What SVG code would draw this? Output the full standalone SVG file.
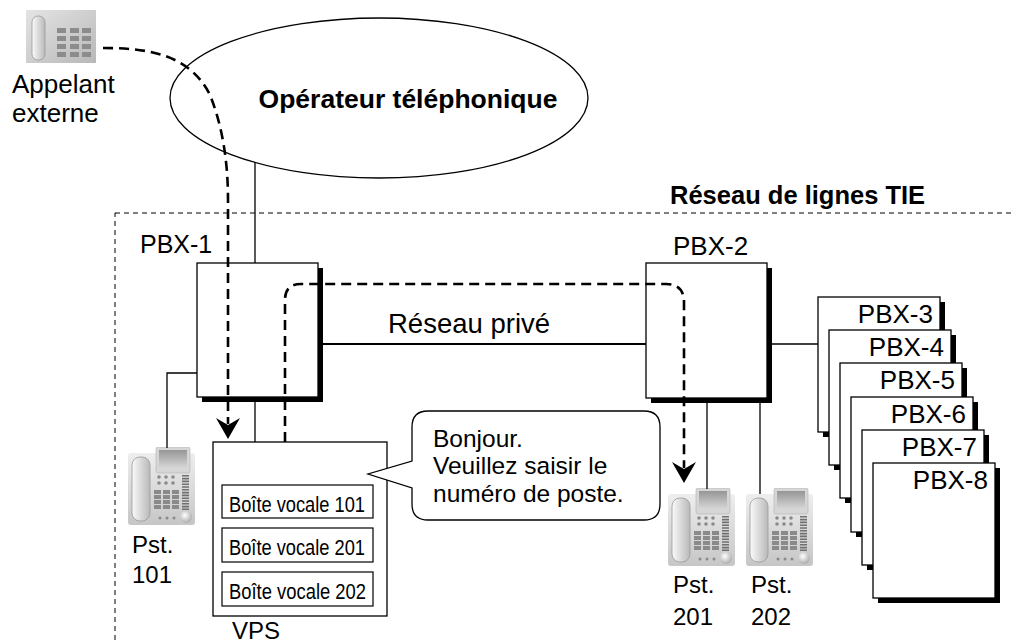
<svg xmlns="http://www.w3.org/2000/svg" width="1014" height="643" viewBox="0 0 1014 643">
  <style>
    .t{font-family:"Liberation Sans",Arial,Helvetica,sans-serif;fill:#000}
    .b{font-weight:bold}
    .box{fill:#fff;stroke:#000;stroke-width:1.3}
    .shadow{fill:#000}
    .wire{fill:none;stroke:#000;stroke-width:1.3}
    .trunk{fill:none;stroke:#000;stroke-width:2.2}
    .call{fill:none;stroke:#000;stroke-width:2.6;stroke-dasharray:10 6;marker-end:url(#arrow)}
    .zone{fill:none;stroke:#000;stroke-width:1;stroke-dasharray:5 4}
    .mbox{fill:#fff;stroke:#000;stroke-width:1.2}
  </style>
  <defs>
    <marker id="arrow" markerUnits="userSpaceOnUse" viewBox="0 0 21 24" markerWidth="21" markerHeight="24" refX="6" refY="12" orient="auto">
      <path d="M21,12 L0,0 L7,12 L0,24 Z" fill="#000"/>
    </marker>
    <linearGradient id="gBody" x1="0" y1="0" x2="0" y2="1">
      <stop offset="0" stop-color="#eeeeee"/>
      <stop offset="1" stop-color="#c6c6c6"/>
    </linearGradient>
    <linearGradient id="gHandset" x1="0" y1="0" x2="1" y2="0">
      <stop offset="0" stop-color="#fafafa"/>
      <stop offset="1" stop-color="#b9b9b9"/>
    </linearGradient>
    <linearGradient id="gScreen" x1="0" y1="0" x2="0" y2="1">
      <stop offset="0" stop-color="#969696"/>
      <stop offset="1" stop-color="#dadada"/>
    </linearGradient>
    <radialGradient id="gBtn" cx="0.4" cy="0.35" r="0.7">
      <stop offset="0" stop-color="#ffffff"/>
      <stop offset="1" stop-color="#a8a8a8"/>
    </radialGradient>
    <linearGradient id="gCaller" x1="0" y1="0" x2="1" y2="1">
      <stop offset="0" stop-color="#e4e4e4"/>
      <stop offset="1" stop-color="#b8b8b8"/>
    </linearGradient>
    <symbol id="deskphone" viewBox="0 0 67 78">
      <rect x="0" y="6" width="67" height="72" rx="3" fill="url(#gBody)"/>
      <rect x="4" y="10" width="18" height="64" rx="8" fill="url(#gHandset)" stroke="#9a9a9a" stroke-width="0.8"/>
      <rect x="28" y="0" width="34" height="26" rx="2" fill="#d6d6d6" stroke="#b4b4b4" stroke-width="0.6"/>
      <rect x="31" y="3" width="28" height="19" fill="url(#gScreen)"/>
      <g fill="#8a8a8a">
        <circle cx="31" cy="30" r="1.8"/><circle cx="38" cy="30" r="1.8"/><circle cx="45" cy="30" r="1.8"/>
        <circle cx="31" cy="36" r="1.8"/><circle cx="38" cy="36" r="1.8"/><circle cx="45" cy="36" r="1.8"/>
        <rect x="26" y="43" width="7" height="4"/><rect x="35" y="43" width="7" height="4"/><rect x="44" y="43" width="7" height="4"/>
        <rect x="26" y="48" width="7" height="4"/><rect x="35" y="48" width="7" height="4"/><rect x="44" y="48" width="7" height="4"/>
        <rect x="26" y="53" width="7" height="4"/><rect x="35" y="53" width="7" height="4"/><rect x="44" y="53" width="7" height="4"/>
        <rect x="26" y="58" width="7" height="4"/><rect x="35" y="58" width="7" height="4"/><rect x="44" y="58" width="7" height="4"/>
        <circle cx="32" cy="71" r="1.5"/><circle cx="39" cy="71" r="1.5"/><circle cx="46" cy="71" r="1.5"/>
      </g>
      <line x1="57.5" y1="28" x2="57.5" y2="63" stroke="#707070" stroke-width="7" stroke-dasharray="1.6 1.2"/>
      <circle cx="58" cy="70" r="6" fill="url(#gBtn)"/>
    </symbol>
  </defs>

  <!-- TIE line network boundary -->
  <g id="tie-network">
    <rect class="zone" x="115" y="213" width="960" height="500"/>
    <text class="t b" x="670" y="204" font-size="25.5">Réseau de lignes TIE</text>
  </g>

  <!-- external caller -->
  <g id="caller">
    <rect x="26" y="10" width="70" height="53" fill="url(#gCaller)"/>
    <rect x="32" y="16" width="13" height="44" rx="6" fill="url(#gHandset)" stroke="#9a9a9a" stroke-width="0.8"/>
    <g fill="#8c8c8c">
      <rect x="57" y="28" width="9" height="5"/><rect x="70" y="28" width="9" height="5"/><rect x="82" y="28" width="9" height="5"/>
      <rect x="57" y="36" width="9" height="5"/><rect x="70" y="36" width="9" height="5"/><rect x="82" y="36" width="9" height="5"/>
      <rect x="57" y="44" width="9" height="5"/><rect x="70" y="44" width="9" height="5"/><rect x="82" y="44" width="9" height="5"/>
      <rect x="57" y="52" width="9" height="5"/><rect x="70" y="52" width="9" height="5"/><rect x="82" y="52" width="9" height="5"/>
    </g>
    <text class="t" x="12" y="93" font-size="26">Appelant</text>
    <text class="t" x="12" y="122" font-size="26">externe</text>
  </g>

  <!-- telephone company -->
  <g id="carrier">
    <ellipse cx="379" cy="98" rx="209" ry="80" fill="none" stroke="#000" stroke-width="1.3"/>
    <text class="t b" x="408" y="108" font-size="26.5" text-anchor="middle">Opérateur téléphonique</text>
  </g>

  <!-- PBX-1 -->
  <g id="pbx1">
    <rect class="shadow" x="202" y="268" width="121" height="134"/>
    <rect class="box" x="197" y="263" width="121" height="134"/>
    <text class="t" x="140" y="253" font-size="25">PBX-1</text>
  </g>

  <!-- PBX-2 -->
  <g id="pbx2">
    <rect class="shadow" x="651" y="268" width="121" height="135"/>
    <rect class="box" x="646" y="263" width="121" height="135"/>
    <text class="t" x="673" y="255" font-size="26">PBX-2</text>
  </g>

  <!-- PBX-3 to PBX-8 stack -->
  <g id="pbx3">
    <rect class="shadow" x="823" y="302" width="122" height="135"/>
    <rect class="box" x="818" y="297" width="122" height="135"/>
    <text class="t" x="933" y="323" font-size="26" text-anchor="end">PBX-3</text>
  </g>
  <g id="pbx4">
    <rect class="shadow" x="834" y="335" width="122" height="135"/>
    <rect class="box" x="829" y="330" width="122" height="135"/>
    <text class="t" x="944" y="356" font-size="26" text-anchor="end">PBX-4</text>
  </g>
  <g id="pbx5">
    <rect class="shadow" x="845" y="368" width="122" height="135"/>
    <rect class="box" x="840" y="363" width="122" height="135"/>
    <text class="t" x="955" y="389" font-size="26" text-anchor="end">PBX-5</text>
  </g>
  <g id="pbx6">
    <rect class="shadow" x="856" y="402" width="122" height="135"/>
    <rect class="box" x="851" y="397" width="122" height="135"/>
    <text class="t" x="966" y="423" font-size="26" text-anchor="end">PBX-6</text>
  </g>
  <g id="pbx7">
    <rect class="shadow" x="867" y="435" width="122" height="135"/>
    <rect class="box" x="862" y="430" width="122" height="135"/>
    <text class="t" x="977" y="456" font-size="26" text-anchor="end">PBX-7</text>
  </g>
  <g id="pbx8">
    <rect class="shadow" x="878" y="468" width="122" height="135"/>
    <rect class="box" x="873" y="463" width="122" height="135"/>
    <text class="t" x="988" y="489" font-size="26" text-anchor="end">PBX-8</text>
  </g>

  <!-- voice processing system -->
  <g id="vps">
    <rect class="box" x="213" y="442" width="174" height="174"/>
    <rect class="mbox" x="222" y="485" width="151" height="33"/>
    <rect class="mbox" x="222" y="528" width="151" height="34"/>
    <rect class="mbox" x="222" y="572" width="151" height="34"/>
    <text class="t" x="229" y="511.5" font-size="22" textLength="136" lengthAdjust="spacingAndGlyphs">Boîte vocale 101</text>
    <text class="t" x="229" y="555" font-size="22" textLength="136" lengthAdjust="spacingAndGlyphs">Boîte vocale 201</text>
    <text class="t" x="229" y="598.5" font-size="22" textLength="137" lengthAdjust="spacingAndGlyphs">Boîte vocale 202</text>
    <text class="t" x="232" y="639" font-size="24">VPS</text>
  </g>

  <!-- greeting balloon -->
  <g id="greeting">
    <path class="box" d="M428,411 H644 Q660,411 660,427 V504 Q660,520 644,520 H428 Q412,520 412,504 V488 L368,474 L412,461 V427 Q412,411 428,411 Z"/>
    <text class="t" x="433" y="447" font-size="24.5">Bonjour.</text>
    <text class="t" x="433" y="474" font-size="24.5">Veuillez saisir le</text>
    <text class="t" x="433" y="502" font-size="24.5">numéro de poste.</text>
  </g>

  <!-- extensions -->
  <g id="ext101">
    <use href="#deskphone" x="128" y="447" width="67" height="78"/>
    <text class="t" x="132" y="553" font-size="24">Pst.</text>
    <text class="t" x="132" y="583" font-size="24">101</text>
  </g>
  <g id="ext201">
    <use href="#deskphone" x="668" y="488" width="67" height="78"/>
    <text class="t" x="673" y="593" font-size="24">Pst.</text>
    <text class="t" x="673" y="625" font-size="24">201</text>
  </g>
  <g id="ext202">
    <use href="#deskphone" x="746" y="488" width="67" height="78"/>
    <text class="t" x="751" y="593" font-size="24">Pst.</text>
    <text class="t" x="751" y="625" font-size="24">202</text>
  </g>

  <!-- connectors -->
  <g id="connectors">
    <path class="wire" d="M255,162 V263"/>
    <path class="wire" d="M255,402 V442"/>
    <path class="wire" d="M197,373 H167 V448"/>
    <path class="trunk" d="M323,344 H646"/>
    <path class="wire" d="M772,344 H818"/>
    <path class="wire" d="M707,403 V489"/>
    <path class="wire" d="M760,403 V494"/>
    <text class="t" x="388" y="333" font-size="27.5">Réseau privé</text>
    <!-- incoming call routed to the VPS -->
    <path class="call" d="M103,48 C150,48 190,55 210,95 C222,125 228,160 228,200 L228,424"/>
    <!-- transfer from the VPS to extension 201 -->
    <path class="call" d="M285,442 V300 Q285,284 301,284 H666 Q684,284 684,302 V468"/>
  </g>
</svg>
